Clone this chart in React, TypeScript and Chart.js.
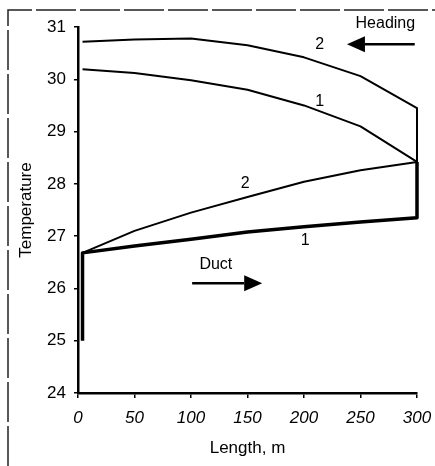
import React, { useEffect, useRef } from "react";
import { Chart, registerables } from "chart.js";

Chart.register(...registerables);

// Series (x = length in m, y = temperature)
const heading2X = [4, 50, 100, 150, 200, 250, 300, 300];
const heading2Y = [30.72, 30.76, 30.78, 30.65, 30.42, 30.06, 29.45, 28.42];
const heading1X = [4, 50, 100, 150, 200, 250, 300];
const heading1Y = [30.19, 30.12, 29.98, 29.8, 29.5, 29.1, 28.42];
const duct2X = [4, 50, 100, 150, 200, 250, 300];
const duct2Y = [26.68, 27.1, 27.45, 27.75, 28.04, 28.26, 28.42];
const duct1X = [4, 4, 50, 100, 150, 200, 250, 300, 300];
const duct1Y = [25.0, 26.68, 26.81, 26.94, 27.08, 27.18, 27.27, 27.35, 28.42];

const xTicks = [0, 50, 100, 150, 200, 250, 300];
const yTicks = [24, 25, 26, 27, 28, 29, 30, 31];

// Text annotations in data coordinates
const curveLabels = [
  { text: "2", x: 214, y: 30.66 },
  { text: "1", x: 214, y: 29.58 },
  { text: "2", x: 148, y: 28.0 },
  { text: "1", x: 201, y: 26.91 },
];
const headingLabel = { text: "Heading", x: 272, y: 31.06 };
const headingArrow = { fromX: 298, toX: 238, y: 30.67 };
const ductLabel = { text: "Duct", x: 122, y: 26.45 };
const ductArrow = { fromX: 101, toX: 163, y: 26.1 };

const pts = (xs: number[], ys: number[]) => xs.map((x, i) => ({ x, y: ys[i] }));

const FONT = "'Liberation Sans', Arial, sans-serif";
const INK = "#000";

const annotationPlugin = {
  id: "annotations",
  afterDraw(chart: any) {
    const { ctx } = chart;
    const xs = chart.scales.x;
    const ys = chart.scales.y;
    ctx.save();
    // page frame (scan border)
    ctx.strokeStyle = "#222";
    ctx.lineWidth = 1.5;
    ctx.setLineDash([40, 4]);
    ctx.beginPath();
    ctx.moveTo(8, 466);
    ctx.lineTo(8, 10);
    ctx.lineTo(435, 10);
    ctx.stroke();
    ctx.setLineDash([]);

    ctx.fillStyle = INK;
    ctx.textAlign = "center";
    ctx.textBaseline = "middle";
    ctx.font = `16px ${FONT}`;
    curveLabels.forEach((l) => {
      ctx.fillText(l.text, xs.getPixelForValue(l.x), ys.getPixelForValue(l.y));
    });
    ctx.fillText(headingLabel.text, xs.getPixelForValue(headingLabel.x), ys.getPixelForValue(headingLabel.y));
    ctx.fillText(ductLabel.text, xs.getPixelForValue(ductLabel.x), ys.getPixelForValue(ductLabel.y));

    const arrow = (fx: number, tx: number, y: number) => {
      const x0 = xs.getPixelForValue(fx);
      const x1 = xs.getPixelForValue(tx);
      const py = ys.getPixelForValue(y);
      const dir = Math.sign(x1 - x0);
      const headLen = 18;
      ctx.strokeStyle = INK;
      ctx.lineWidth = 2.5;
      ctx.beginPath();
      ctx.moveTo(x0, py);
      ctx.lineTo(x1 - dir * headLen, py);
      ctx.stroke();
      ctx.beginPath();
      ctx.moveTo(x1, py);
      ctx.lineTo(x1 - dir * headLen, py - 8);
      ctx.lineTo(x1 - dir * headLen, py + 8);
      ctx.closePath();
      ctx.fill();
    };
    arrow(headingArrow.fromX, headingArrow.toX, headingArrow.y);
    arrow(ductArrow.fromX, ductArrow.toX, ductArrow.y);
    ctx.restore();
  },
};

export default function App() {
  const ref = useRef<HTMLCanvasElement | null>(null);
  useEffect(() => {
    if (!ref.current) return;
    const lineDs = (data: any[], w: number) => ({
      data,
      borderColor: INK,
      borderWidth: w,
      pointRadius: 0,
      tension: 0,
      fill: false,
      clip: false as any,
      borderJoinStyle: "round" as const,
    });
    const chart = new Chart(ref.current, {
      type: "line",
      data: {
        datasets: [
          lineDs(pts(heading2X, heading2Y), 2),
          lineDs(pts(heading1X, heading1Y), 2),
          lineDs(pts(duct2X, duct2Y), 2),
          lineDs(pts(duct1X, duct1Y), 3.5),
        ],
      },
      options: {
        animation: false,
        responsive: false,
        devicePixelRatio: 1,
        layout: { padding: { top: 27, right: 18, left: 0, bottom: 0 } },
        plugins: { legend: { display: false }, tooltip: { enabled: false } },
        scales: {
          x: {
            type: "linear",
            min: 0,
            max: 300,
            afterBuildTicks: (s: any) => {
              s.ticks = xTicks.map((v) => ({ value: v }));
            },
            afterFit: (s: any) => {
              s.height = 73;
              s.paddingLeft = 0;
              s.paddingRight = 0;
            },
            ticks: {
              color: INK,
              font: { family: FONT, size: 17, style: "italic" },
              padding: 10,
              maxRotation: 0,
            },
            grid: { drawOnChartArea: false, color: INK, tickLength: 5, lineWidth: 1.5 },
            border: { color: INK, width: 2.5 },
            title: {
              display: true,
              text: "Length, m",
              color: INK,
              font: { family: FONT, size: 17 },
              padding: { bottom: 7, top: 0 },
            },
          },
          y: {
            type: "linear",
            min: 24,
            max: 31,
            afterBuildTicks: (s: any) => {
              s.ticks = yTicks.map((v) => ({ value: v }));
            },
            afterFit: (s: any) => {
              s.width = 78;
              s.paddingTop = 0;
              s.paddingBottom = 0;
            },
            ticks: {
              color: INK,
              font: { family: FONT, size: 17 },
              padding: 8,
            },
            grid: { drawOnChartArea: false, color: INK, tickLength: 4, lineWidth: 1.5 },
            border: { color: INK, width: 2.5 },
            title: {
              display: true,
              text: "Temperature",
              color: INK,
              font: { family: FONT, size: 17 },
              padding: { top: 16, bottom: 0 },
            },
          },
        },
      },
      plugins: [annotationPlugin],
    });
    return () => chart.destroy();
  }, []);
  return (
    <div style={{ position: "absolute", left: 0, top: 0, width: 435, height: 466, background: "#fff" }}>
      <canvas ref={ref} width={435} height={466} style={{ display: "block" }} />
    </div>
  );
}
